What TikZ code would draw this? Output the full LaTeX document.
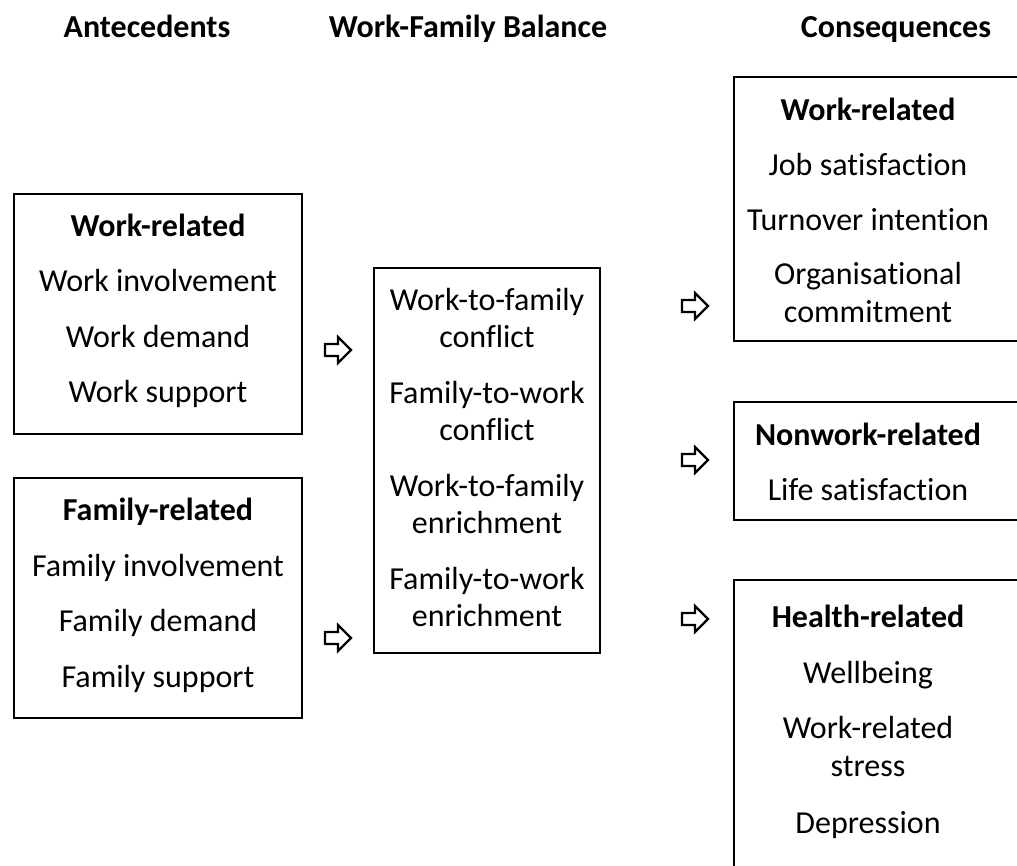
\documentclass[tikz,border=0pt]{standalone}
\usepackage{fontspec}
\setmainfont[Ligatures=NoCommon]{Carlito}
\begin{document}
\begin{tikzpicture}[x=1pt,y=-1pt,
  box/.style={draw, line width=2.5pt, rectangle, inner sep=0pt},
  txt/.style={font=\fontsize{32}{37.5}\selectfont, anchor=base, inner sep=0pt},
  ttl/.style={font=\fontsize{32}{37.5}\selectfont\bfseries, anchor=base, inner sep=0pt},
  blk/.style={draw, line width=2.2pt, line join=miter}]
\useasboundingbox (0,0) rectangle (1017,865);
\clip (0,0) rectangle (1017,865);

% headers
\node[ttl] (h1) at (147,37) {Antecedents};
\node[ttl] (h2) at (468,37) {Work-Family Balance};
\node[ttl] (h3) at (896,37) {Consequences};

% boxes
\node[box, minimum width=288pt, minimum height=240pt] (a1) at (158,314) {};
\node[box, minimum width=288pt, minimum height=240pt] (a2) at (158,598) {};
\node[box, minimum width=226pt, minimum height=385pt] (m) at (487,460.5) {};
\node[box, minimum width=306pt, minimum height=264pt] (c1) at (887,209) {};
\node[box, minimum width=306pt, minimum height=118pt] (c2) at (887,461) {};
\node[box, minimum width=306pt, minimum height=320pt] (c3) at (887,740) {};

% antecedents: work
\node[ttl] (a1t) at (158,236) {Work-related};
\node[txt] (a1a) at (158,291) {Work involvement};
\node[txt] (a1b) at (158,347) {Work demand};
\node[txt] (a1c) at (158,402) {Work support};

% antecedents: family
\node[ttl] (a2t) at (158,520) {Family-related};
\node[txt] (a2a) at (158,576) {Family involvement};
\node[txt] (a2b) at (158,631) {Family demand};
\node[txt] (a2c) at (158,687) {Family support};

% balance
\node[txt] (m1a) at (487,310) {Work-to-family};
\node[txt] (m1b) at (487,347.5) {conflict};
\node[txt] (m2a) at (487,403) {Family-to-work};
\node[txt] (m2b) at (487,440.5) {conflict};
\node[txt] (m3a) at (487,496) {Work-to-family};
\node[txt] (m3b) at (487,533.5) {enrichment};
\node[txt] (m4a) at (487,589) {Family-to-work};
\node[txt] (m4b) at (487,626.5) {enrichment};

% consequences: work
\node[ttl] (c1t) at (868,120) {Work-related};
\node[txt] (c1a) at (868,175) {Job satisfaction};
\node[txt] (c1b) at (868,230) {Turnover intention};
\node[txt] (c1c) at (868,284) {Organisational};
\node[txt] (c1d) at (868,322) {commitment};

% consequences: nonwork
\node[ttl] (c2t) at (868,445) {Nonwork-related};
\node[txt] (c2a) at (868,500) {Life satisfaction};

% consequences: health
\node[ttl] (c3t) at (868,627) {Health-related};
\node[txt] (c3a) at (868,683) {Wellbeing};
\node[txt] (c3b) at (868,738) {Work-related};
\node[txt] (c3c) at (868,776) {stress};
\node[txt] (c3d) at (868,833) {Depression};

% block arrows
\coordinate (r1) at (338,350);
\coordinate (r2) at (338,638);
\coordinate (r3) at (695,306);
\coordinate (r4) at (695,460);
\coordinate (r5) at (695,619);
\foreach \r in {r1,r2,r3,r4,r5}{
  \draw[blk, shift={(\r)}] (-13,-6) -- (0,-6) -- (0,-13) -- (13,0) -- (0,13) -- (0,6) -- (-13,6) -- cycle;
}
\end{tikzpicture}
\end{document}
